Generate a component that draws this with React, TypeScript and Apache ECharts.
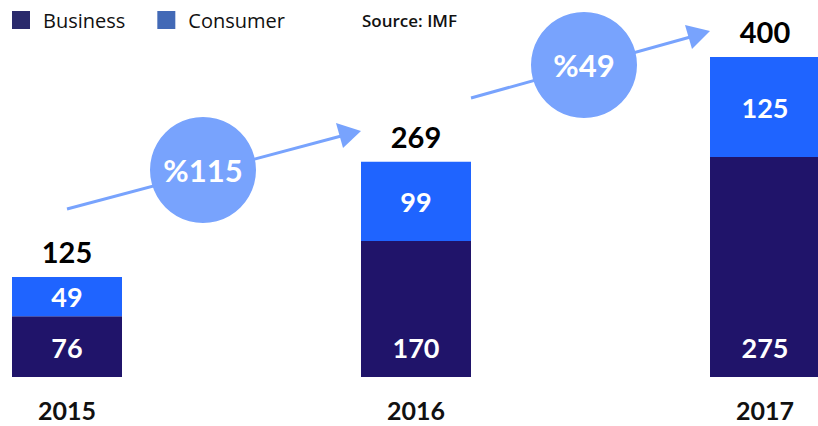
import React, { useEffect, useRef } from "react";
import * as echarts from "echarts";

const years = ["2015", "2016", "2017"];
const business = [76, 170, 275];
const consumer = [49, 99, 125];
const totals = business.map((b, i) => b + consumer[i]);
const growth = totals.slice(1).map((t, i) => Math.round(((t - totals[i]) / totals[i]) * 100));

const NUM_FONT = "Lato";

export default function App() {
  const ref = useRef<HTMLDivElement>(null);
  useEffect(() => {
    if (!ref.current) return;
    const chart = echarts.init(ref.current, undefined, { renderer: "svg" });
    const arrowColor = "#78a3fd";
    const arrows = [
      { x1: 67, y1: 209, x2: 345, y2: 135, head: [[336, 123], [361, 131], [343, 148]], cx: 203, cy: 170 },
      { x1: 471, y1: 98, x2: 694, y2: 36, head: [[685, 25], [710, 31], [692, 49]], cx: 584, cy: 65 },
    ];
    const graphic: any[] = [];
    arrows.forEach((a, i) => {
      graphic.push({
        type: "line",
        shape: { x1: a.x1, y1: a.y1, x2: a.x2, y2: a.y2 },
        style: { stroke: arrowColor, lineWidth: 3 },
        z: 10,
      });
      graphic.push({
        type: "polygon",
        shape: { points: a.head },
        style: { fill: arrowColor },
        z: 10,
      });
      graphic.push({
        type: "circle",
        shape: { cx: a.cx, cy: a.cy, r: 53 },
        style: { fill: arrowColor },
        z: 11,
      });
      graphic.push({
        type: "text",
        x: a.cx,
        y: a.cy,
        style: {
          text: "%" + growth[i],
          fill: "#ffffff",
          font: `bold 31px ${NUM_FONT}`,
          align: "center",
          verticalAlign: "middle",
        },
        z: 12,
      });
    });

    chart.setOption({
      animation: false,
      title: {
        text: "Source: IMF",
        left: 362,
        top: 12,
        padding: 0,
        textStyle: { fontFamily: "Open Sans", fontSize: 17, fontWeight: 600, color: "#111" },
      },
      legend: {
        left: 12,
        top: 10,
        padding: 0,
        itemWidth: 18,
        itemHeight: 18,
        itemGap: 32,
        icon: "rect",
        textStyle: { fontFamily: "Open Sans", fontSize: 20, color: "#111", padding: [0, 0, 0, 8] },
        data: [
          { name: "Business", itemStyle: { color: "#2a2a6c" } },
          { name: "Consumer", itemStyle: { color: "#4269b6" } },
        ],
      },
      grid: { left: 67, right: 53, top: 57, bottom: 49 },
      xAxis: {
        type: "category",
        data: years,
        boundaryGap: false,
        axisLine: { show: false },
        axisTick: { show: false },
        axisLabel: {
          margin: 20,
          fontFamily: NUM_FONT,
          fontWeight: "bold",
          fontSize: 25,
          lineHeight: 25,
          color: "#111",
        },
      },
      yAxis: {
        type: "value",
        min: 0,
        max: 400,
        show: false,
        splitLine: { show: false },
      },
      series: [
        {
          name: "Business",
          type: "bar",
          stack: "total",
          barWidth: 110,
          data: business,
          itemStyle: { color: "#20146a" },
          label: {
            show: true,
            position: "insideBottom",
            distance: 16,
            color: "#fff",
            fontFamily: NUM_FONT,
            fontWeight: "bold",
            fontSize: 27,
          },
        },
        {
          name: "Consumer",
          type: "bar",
          stack: "total",
          barWidth: 110,
          data: consumer,
          itemStyle: { color: "#1f64ff" },
          label: {
            show: true,
            position: "inside",
            color: "#fff",
            fontFamily: NUM_FONT,
            fontWeight: "bold",
            fontSize: 27,
          },
        },
        {
          name: "Total",
          type: "bar",
          stack: "total",
          barWidth: 110,
          data: totals.map(() => 0),
          itemStyle: { color: "transparent" },
          label: {
            show: true,
            position: "top",
            distance: 11,
            formatter: (p: any) => String(totals[p.dataIndex]),
            color: "#000",
            fontFamily: NUM_FONT,
            fontWeight: "bold",
            fontSize: 29,
          },
        },
      ],
      graphic,
    });
    return () => chart.dispose();
  }, []);
  return (
    <div
      ref={ref}
      style={{ position: "absolute", left: 0, top: 0, width: 818, height: 426 }}
    />
  );
}
